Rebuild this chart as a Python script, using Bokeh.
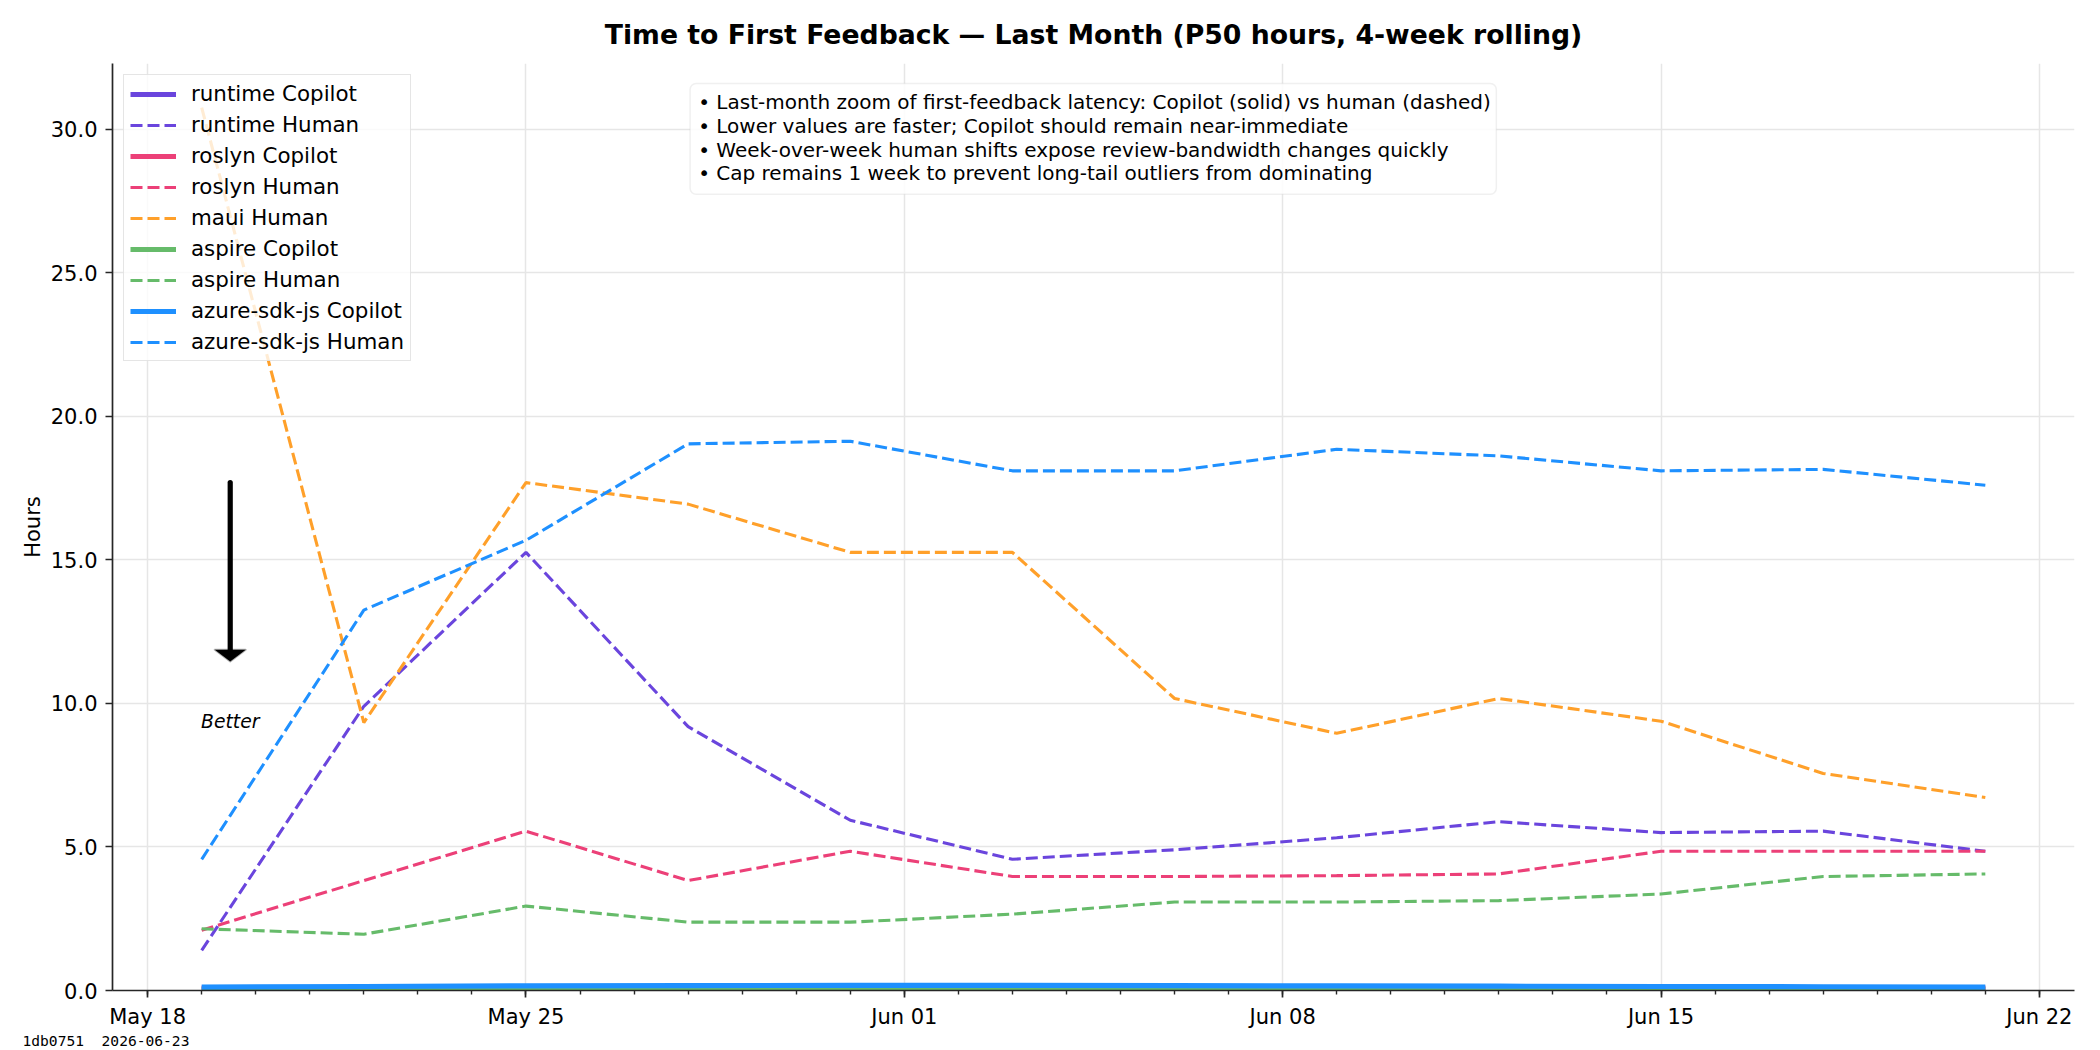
import numpy as np
from bokeh.plotting import figure
from bokeh.models import (Range1d, FixedTicker, DatetimeTickFormatter, NumeralTickFormatter,
                          Legend, Label, BoxAnnotation, PolyAnnotation, Arrow, Title)
from bokeh.embed import file_html
from bokeh.resources import INLINE

# ---------------- data ----------------
dates = ["2026-05-19", "2026-05-22", "2026-05-25", "2026-05-28", "2026-05-31", "2026-06-03",
         "2026-06-06", "2026-06-09", "2026-06-12", "2026-06-15", "2026-06-18", "2026-06-21"]

runtime_copilot = [0.06, 0.06, 0.07, 0.07, 0.07, 0.07, 0.07, 0.07, 0.06, 0.06, 0.06, 0.06]
runtime_human = [1.40, 9.90, 15.26, 9.19, 5.93, 4.57, 4.90, 5.32, 5.88, 5.50, 5.55, 4.85]
roslyn_copilot = [0.08, 0.08, 0.09, 0.09, 0.09, 0.09, 0.09, 0.09, 0.08, 0.08, 0.08, 0.08]
roslyn_human = [2.10, 3.83, 5.55, 3.83, 4.85, 3.97, 3.97, 4.00, 4.06, 4.85, 4.85, 4.85]
maui_human = [30.75, 9.33, 17.69, 16.94, 15.26, 15.26, 10.17, 8.96, 10.17, 9.38, 7.56, 6.72]
aspire_copilot = [0.03, 0.03, 0.03, 0.04, 0.04, 0.04, 0.04, 0.04, 0.03, 0.03, 0.03, 0.03]
aspire_human = [2.15, 1.96, 2.94, 2.38, 2.38, 2.66, 3.08, 3.08, 3.13, 3.36, 3.97, 4.06]
azure_copilot = [0.12, 0.14, 0.16, 0.17, 0.18, 0.18, 0.17, 0.16, 0.15, 0.14, 0.13, 0.12]
azure_human = [4.57, 13.25, 15.68, 19.04, 19.13, 18.10, 18.10, 18.85, 18.62, 18.10, 18.15, 17.60]

major_tick_dates = ["2026-05-18", "2026-05-25", "2026-06-01", "2026-06-08", "2026-06-15", "2026-06-22"]
y_ticks = [0, 5, 10, 15, 20, 25, 30]

notes = [
    "\u2022 Last-month zoom of first-feedback latency: Copilot (solid) vs human (dashed)",
    "\u2022 Lower values are faster; Copilot should remain near-immediate",
    "\u2022 Week-over-week human shifts expose review-bandwidth changes quickly",
    "\u2022 Cap remains 1 week to prevent long-tail outliers from dominating",
]
title_text = "Time to First Feedback \u2014 Last Month (P50 hours, 4-week rolling)"
stamp_text = "1db0751 \u00a02026-06-23"

colors = {
    "runtime": "#6a45dd",
    "roslyn": "#ec4078",
    "maui": "#ffa02a",
    "aspire": "#66bb6a",
    "azure-sdk-js": "#1e90ff",
}

# ---------------- helpers ----------------
DAY = 86400000.0


def ms(d):
    return float(np.datetime64(d).astype("datetime64[ms]").astype("int64"))


xs = [ms(d) for d in dates]
span = xs[-1] - xs[0]
x0, x1 = xs[0] - 0.05 * span, xs[-1] + 0.05 * span
all_vals = runtime_human + roslyn_human + maui_human + aspire_human + azure_human
y0, y1 = 0.0, max(all_vals) * 1.05

FONT = "DejaVu Sans"

p = figure(width=2100, height=1050, x_axis_type="datetime",
           x_range=Range1d(x0, x1), y_range=Range1d(y0, y1),
           output_backend="svg", toolbar_location=None,
           min_border_left=112, min_border_right=26, min_border_top=63, min_border_bottom=58)
p.outline_line_color = None
p.background_fill_color = "white"
p.border_fill_color = "white"

# title
p.title.text = title_text
p.title.text_font = FONT
p.title.text_font_size = "26.7px"
p.title.text_font_style = "bold"
p.title.align = "center"
p.title.text_color = "black"
p.title.standoff = 27

# axes
xa = p.xaxis[0]
xa.ticker = FixedTicker(ticks=[ms(d) for d in major_tick_dates],
                        minor_ticks=[ms("2026-05-18") + i * DAY for i in range(0, 36)])
xa.formatter = DatetimeTickFormatter(days="%b %d", months="%b %d", hours="%b %d",
                                     years="%b %d", minutes="%b %d")
ya = p.yaxis[0]
ya.ticker = FixedTicker(ticks=y_ticks)
ya.formatter = NumeralTickFormatter(format="0.0")
ya.axis_label = "Hours"
ya.axis_label_text_font = FONT
ya.axis_label_text_font_size = "21px"
ya.axis_label_text_font_style = "normal"
ya.axis_label_text_color = "black"
ya.axis_label_standoff = 3
for ax in (xa, ya):
    ax.axis_line_color = "#262626"
    ax.axis_line_width = 1.7
    ax.major_tick_line_color = "#262626"
    ax.major_tick_line_width = 1.7
    ax.minor_tick_line_color = "#262626"
    ax.minor_tick_line_width = 1.4
    ax.major_tick_out = 7
    ax.major_tick_in = 0
    ax.minor_tick_out = 4
    ax.minor_tick_in = 0
    ax.major_label_text_font = FONT
    ax.major_label_text_font_size = "21px"
    ax.major_label_text_color = "black"
    ax.major_label_standoff = 8
ya.minor_tick_out = 0
xa.major_label_standoff = 7

p.xgrid.grid_line_color = "#e6e6e6"
p.ygrid.grid_line_color = "#e6e6e6"
p.xgrid.grid_line_width = 1.5
p.ygrid.grid_line_width = 1.5

# ---------------- lines ----------------
SOLID_W = 5.2
DASH_W = 3.1
DASH = "12 5"
series = [
    ("runtime Copilot", runtime_copilot, colors["runtime"], True),
    ("runtime Human", runtime_human, colors["runtime"], False),
    ("roslyn Copilot", roslyn_copilot, colors["roslyn"], True),
    ("roslyn Human", roslyn_human, colors["roslyn"], False),
    ("maui Human", maui_human, colors["maui"], False),
    ("aspire Copilot", aspire_copilot, colors["aspire"], True),
    ("aspire Human", aspire_human, colors["aspire"], False),
    ("azure-sdk-js Copilot", azure_copilot, colors["azure-sdk-js"], True),
    ("azure-sdk-js Human", azure_human, colors["azure-sdk-js"], False),
]
items = []
for label, vals, col, solid in series:
    if solid:
        r = p.line(xs, vals, line_color=col, line_width=SOLID_W)
    else:
        r = p.line(xs, vals, line_color=col, line_width=DASH_W, line_dash=DASH)
    items.append((label, [r]))

legend = Legend(items=items, location="top_left", margin=11, padding=6, spacing=6,
                glyph_width=46, glyph_height=22, label_height=22, label_standoff=15,
                label_text_font=FONT, label_text_font_size="21.4px", label_text_color="black",
                border_line_color="#cccccc", border_line_width=1.5,
                background_fill_color="white", background_fill_alpha=0.8)
p.add_layout(legend, "center")

# ---------------- annotations ----------------
def fx(f):
    return x0 + f * (x1 - x0)


def fy(f):
    return y0 + f * (y1 - y0)


box = BoxAnnotation(left=fx(0.2944), right=fx(0.7053), bottom=fy(0.859), top=fy(0.9785),
                    fill_color="white", fill_alpha=0.85, line_color="#cccccc", line_width=1.5,
                    border_radius=6)
p.add_layout(box)
for i, t in enumerate(notes):
    p.add_layout(Label(x=fx(0.2985), y=fy(0.9582 - i * 0.02555), text=t, text_font=FONT,
                       text_font_size="20px", text_align="left", text_baseline="middle",
                       text_color="black"))

# "better" arrow
px_day = 1962.0 / ((x1 - x0) / DAY)
px_unit = 928.7 / (y1 - y0)
ax_x = fx(0.06)
tip_y = fy(0.355)
base_y = tip_y + 11.7 / px_unit
half_w = 15.5 / px_day * DAY
p.add_layout(Arrow(end=None, x_start=ax_x, y_start=fy(0.548), x_end=ax_x, y_end=base_y,
                   line_width=5.2, line_color="black", line_cap="round"))
p.add_layout(PolyAnnotation(xs=[ax_x - half_w, ax_x, ax_x + half_w], ys=[base_y, tip_y, base_y],
                            fill_color="black", fill_alpha=1.0, line_color="black",
                            line_width=2, line_join="round"))
p.add_layout(Label(x=ax_x, y=fy(0.29), text="Better", text_font=FONT, text_font_style="italic",
                   text_font_size="18.75px", text_align="center", text_baseline="middle",
                   text_color="black"))

# stamp in the bottom-left corner
stamp = Title(text=stamp_text, align="left", offset=-90, standoff=0, vertical_align="top",
              text_font="DejaVu Sans Mono", text_font_size="14.6px", text_font_style="normal",
              text_color="black", text_line_height=0.7)
p.add_layout(stamp, "below")

open("out.html", "w").write(file_html(p, INLINE))
